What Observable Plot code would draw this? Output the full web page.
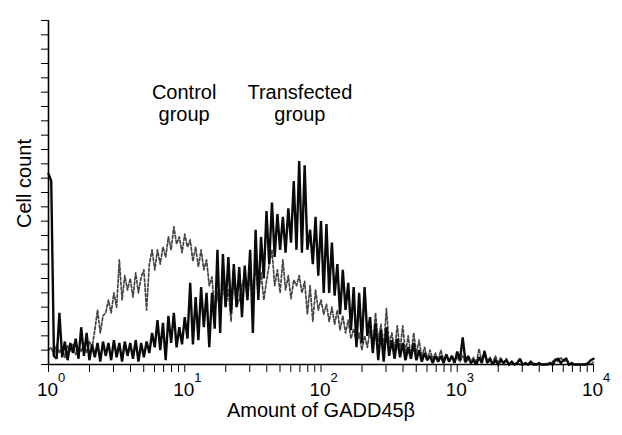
<!DOCTYPE html>
<html>
<head>
<meta charset="utf-8">
<script src="https://cdn.jsdelivr.net/npm/d3@7"></script>
<script src="https://cdn.jsdelivr.net/npm/@observablehq/plot@0.6"></script>
<style>
  html, body { margin: 0; padding: 0; background: #fff; }
  #chart svg { display: block; }
</style>
</head>
<body>
<div id="chart"></div>
<script>
// Histogram channels: each bin is 0.02 decades wide, starting at 10^0
const logStep = 0.02;

// Transfected group (solid black), cell counts per channel
const transfected = [
  133, 128, 6, 4, 36, 5, 16, 3, 15, 8,
  18, 4, 26, 6, 22, 3, 14, 5, 15, 2,
  16, 6, 15, 3, 17, 5, 15, 2, 16, 6,
  15, 4, 17, 2, 15, 5, 16, 8, 22, 12,
  31, 10, 29, 3, 34, 15, 36, 12, 26, 14,
  33, 18, 57, 14, 47, 17, 54, 26, 50, 12,
  50, 25, 80, 22, 77, 40, 75, 36, 70, 40,
  68, 33, 69, 45, 80, 22, 94, 45, 89, 60,
  107, 70, 113, 75, 105, 80, 103, 78, 109, 85,
  128, 80, 142, 78, 139, 80, 94, 70, 103, 62,
  100, 50, 98, 50, 85, 48, 70, 35, 66, 38,
  57, 24, 54, 12, 50, 15, 54, 20, 33, 8,
  29, 3, 24, 2, 26, 6, 17, 4, 18, 5,
  15, 3, 12, 4, 15, 3, 10, 2, 8, 3,
  6, 1, 6, 2, 6, 1, 7, 2, 6, 1,
  9, 3, 19, 2, 6, 1, 3, 0, 5, 1,
  9, 1, 4, 0, 3, 0, 3, 1, 3, 0,
  2, 0, 1, 4, 0, 1, 0, 2, 0, 0,
  1, 0, 0, 0, 1, 0, 3, 4, 1, 3,
  4, 0, 1, 0, 0, 0, 0, 0, 1, 3,
  4
];

// Control group (dashed grey), cell counts per channel
const control = [
  10, 12, 6, 14, 8, 12, 5, 13, 9, 14,
  7, 12, 9, 15, 8, 16, 12, 24, 38, 22,
  34, 36, 45, 36, 50, 40, 73, 45, 62, 52,
  60, 47, 64, 50, 61, 66, 38, 70, 80, 66,
  80, 70, 82, 75, 89, 80, 96, 84, 89, 78,
  91, 82, 87, 72, 82, 68, 80, 66, 73, 55,
  61, 36, 50, 33, 58, 40, 52, 30, 63, 40,
  45, 55, 62, 45, 66, 52, 68, 48, 64, 45,
  58, 70, 80, 55, 66, 50, 73, 52, 62, 46,
  59, 55, 62, 50, 58, 35, 55, 30, 52, 38,
  45, 35, 42, 30, 40, 28, 38, 24, 34, 22,
  31, 18, 25, 14, 22, 10, 20, 12, 24, 14,
  36, 16, 28, 12, 39, 14, 22, 10, 27, 10,
  27, 8, 20, 6, 22, 8, 17, 5, 12, 4,
  10, 4, 8, 3, 10, 3, 7, 2, 6, 3,
  5, 2, 6, 1, 4, 2, 5, 1, 11, 2,
  10, 2, 5, 1, 6, 1, 5, 1, 4, 0,
  2, 0, 1, 0, 0, 0, 0, 0, 1, 0,
  0, 0, 0, 1, 0, 2, 4, 2, 5, 2,
  3, 0, 0, 0, 0, 0, 0, 0, 1, 0,
  2
];

// Axis tick labels
const decades = [1, 10, 100, 1000, 10000];
const exponents = ["0", "1", "2", "3", "4"];
const minorMultipliers = [1, 2, 3, 4, 5, 6, 7, 8, 9];
const yTickValues = [0, 10, 20, 30, 40, 50, 60, 70, 80, 90, 100, 110, 120,
  130, 140, 150, 160, 170, 180, 190, 200, 210, 220, 230, 240];

// Annotations
const annotText = ["Control\ngroup", "Transfected\ngroup"];
const annotX = [9.9, 70];
const annotY = [182.5, 182.5];

const xLabel = "Amount of GADD45\u03B2";
const yLabel = "Cell count";

// Build tables for Plot
const toRows = arr => arr.map((c, i) => ({x: Math.pow(10, i * logStep), y: c}));
const transRows = toRows(transfected);
const ctrlRows = toRows(control);
const xTickValues = [];
decades.slice(0, 4).forEach(d => minorMultipliers.forEach(m => xTickValues.push(d * m)));
xTickValues.push(10000);
const annots = annotText.map((t, i) => ({t, x: annotX[i], y: annotY[i]}));

const font = "'Liberation Sans', Arial, Helvetica, sans-serif";

const chart = Plot.plot({
  width: 622,
  height: 435,
  marginLeft: 48,
  marginRight: 29,
  marginTop: 20,
  marginBottom: 71,
  style: {fontFamily: font, background: "#fff", color: "#000"},
  x: {type: "log", domain: [1, 10000]},
  y: {domain: [0, 240]},
  marks: [
    Plot.axisY({ticks: yTickValues, tickSize: 7, tickFormat: () => "", label: null, stroke: "#000"}),
    Plot.axisX({ticks: xTickValues, tickSize: 8, tickFormat: () => "", label: null, stroke: "#000"}),
    Plot.line(ctrlRows, {x: "x", y: "y", stroke: "#444", strokeWidth: 1.7, strokeDasharray: "3,2"}),
    Plot.line(transRows, {x: "x", y: "y", stroke: "#0a0a0a", strokeWidth: 2.4, strokeLinejoin: "miter", strokeMiterlimit: 2}),
    Plot.ruleY([0], {stroke: "#000", strokeWidth: 1.6}),
    Plot.ruleX([1], {stroke: "#000", strokeWidth: 1.6}),
    // decade tick labels: "10" with superscript exponent
    Plot.text(decades, {x: d => d, frameAnchor: "bottom", text: () => "10", dx: -1, dy: 25, fontSize: 19, lineAnchor: "middle", textAnchor: "middle", fill: "#000"}),
    Plot.text(decades, {x: d => d, frameAnchor: "bottom", text: (d, i) => exponents[i], dx: 13, dy: 13, fontSize: 13, lineAnchor: "middle", textAnchor: "middle", fill: "#000"}),
    // axis titles
    Plot.text([xLabel], {frameAnchor: "bottom", text: d => d, dy: 46, fontSize: 20, lineAnchor: "middle", textAnchor: "middle", fill: "#000"}),
    Plot.text([yLabel], {frameAnchor: "left", text: d => d, dx: -24, dy: -9, rotate: -90, fontSize: 20, lineAnchor: "middle", textAnchor: "middle", fill: "#000"}),
    // group annotations
    Plot.text(annots, {x: "x", y: "y", text: "t", fontSize: 20, lineHeight: 1.1, lineAnchor: "middle", textAnchor: "middle", fill: "#000"})
  ]
});

document.getElementById("chart").appendChild(chart);
</script>
</body>
</html>
